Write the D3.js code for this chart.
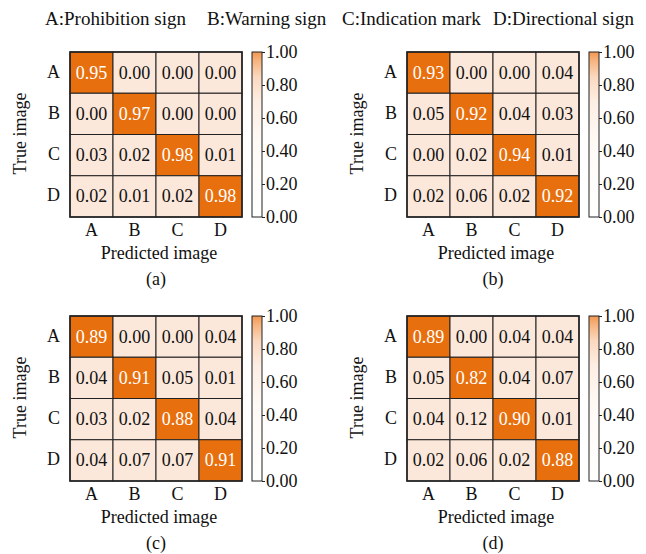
<!DOCTYPE html>
<html>
<head>
<meta charset="utf-8">
<script src="https://cdn.jsdelivr.net/npm/d3@7"></script>
<style>
  html, body { margin: 0; padding: 0; background: #fff; }
  svg { display: block; }
  svg text { font-family: "Times New Roman", "Liberation Serif", Tinos, "Nimbus Roman", "DejaVu Serif", serif; }
</style>
</head>
<body>
<svg id="chart" width="646" height="554"></svg>
<script>
// Class labels and legend captions
const classes = ["A", "B", "C", "D"];
const legendItems = ["A:Prohibition sign", "B:Warning sign", "C:Indication mark", "D:Directional sign"];
const panelLabels = ["(a)", "(b)", "(c)", "(d)"];
const colorbarTicks = [0, 0.2, 0.4, 0.6, 0.8, 1.0];

// Confusion matrices (rows = true class, columns = predicted class)
const matrixA = [
  [0.95, 0.00, 0.00, 0.00],
  [0.00, 0.97, 0.00, 0.00],
  [0.03, 0.02, 0.98, 0.01],
  [0.02, 0.01, 0.02, 0.98]
];
const matrixB = [
  [0.93, 0.00, 0.00, 0.04],
  [0.05, 0.92, 0.04, 0.03],
  [0.00, 0.02, 0.94, 0.01],
  [0.02, 0.06, 0.02, 0.92]
];
const matrixC = [
  [0.89, 0.00, 0.00, 0.04],
  [0.04, 0.91, 0.05, 0.01],
  [0.03, 0.02, 0.88, 0.04],
  [0.04, 0.07, 0.07, 0.91]
];
const matrixD = [
  [0.89, 0.00, 0.04, 0.04],
  [0.05, 0.82, 0.04, 0.07],
  [0.04, 0.12, 0.90, 0.01],
  [0.02, 0.06, 0.02, 0.88]
];

const svg = d3.select("#chart");
const FONT = 18;
const W = 172, H = 165;

// Panel placement (top-left corner of each heatmap)
const panels = [
  { m: matrixA, x: 70,  y: 52,  label: panelLabels[0] },
  { m: matrixB, x: 407, y: 52,  label: panelLabels[1] },
  { m: matrixC, x: 70,  y: 316, label: panelLabels[2] },
  { m: matrixD, x: 407, y: 316, label: panelLabels[3] }
];

// Cell fill: high-confidence cells saturated orange, the rest pale peach
const fill = d3.scaleThreshold().domain([0.5]).range(["#fce8da", "#e76f0e"]);
const textFill = d3.scaleThreshold().domain([0.5]).range(["#111", "#fff"]);

// Colour-bar gradient
const defs = svg.append("defs");
const grad = defs.append("linearGradient").attr("id", "cbar")
  .attr("x1", 0).attr("y1", 1).attr("x2", 0).attr("y2", 0);
[[0, "#ffffff"], [0.45, "#fffaf6"], [0.7, "#fdeee3"], [0.85, "#fbd8bf"], [0.95, "#f6b27c"], [1, "#f29650"]]
  .forEach(([o, c]) => grad.append("stop").attr("offset", o).attr("stop-color", c));

// Legend line across the top
const legendX = [45, 207, 342, 493];
svg.append("g").selectAll("text").data(legendItems).join("text")
  .attr("x", (d, i) => legendX[i]).attr("y", 25)
  .attr("font-size", 19).attr("fill", "#111")
  .text(d => d);

panels.forEach(p => {
  const g = svg.append("g").attr("transform", `translate(${p.x},${p.y})`);
  const x = d3.scaleBand().domain(classes).range([0, W]);
  const y = d3.scaleBand().domain(classes).range([0, H]);

  const cells = [];
  p.m.forEach((row, i) => row.forEach((v, j) => cells.push({ r: classes[i], c: classes[j], v })));

  g.selectAll("rect.cell").data(cells).join("rect").attr("class", "cell")
    .attr("x", d => x(d.c)).attr("y", d => y(d.r))
    .attr("width", x.bandwidth()).attr("height", y.bandwidth())
    .attr("fill", d => fill(d.v))
    .attr("stroke", "#222").attr("stroke-width", 1);

  g.selectAll("text.val").data(cells).join("text").attr("class", "val")
    .attr("x", d => x(d.c) + x.bandwidth() / 2)
    .attr("y", d => y(d.r) + y.bandwidth() / 2)
    .attr("text-anchor", "middle").attr("dominant-baseline", "central")
    .attr("font-size", FONT).attr("fill", d => textFill(d.v))
    .text(d => d3.format(".2f")(d.v));

  g.append("rect").attr("width", W).attr("height", H)
    .attr("fill", "none").attr("stroke", "#222").attr("stroke-width", 1.6);

  // Row labels (true class)
  g.selectAll("text.row").data(classes).join("text").attr("class", "row")
    .attr("x", -10).attr("y", d => y(d) + y.bandwidth() / 2 - 1)
    .attr("text-anchor", "end").attr("dominant-baseline", "central")
    .attr("font-size", FONT).attr("fill", "#111").text(d => d);

  // Column labels (predicted class)
  g.selectAll("text.col").data(classes).join("text").attr("class", "col")
    .attr("x", d => x(d) + x.bandwidth() / 2).attr("y", H + 19)
    .attr("text-anchor", "middle")
    .attr("font-size", FONT).attr("fill", "#111").text(d => d);

  g.append("text").attr("x", W / 2 + 3).attr("y", H + 42)
    .attr("text-anchor", "middle").attr("font-size", FONT).attr("fill", "#111")
    .text("Predicted image");

  g.append("text").attr("x", W / 2).attr("y", H + 68)
    .attr("text-anchor", "middle").attr("font-size", FONT).attr("fill", "#111")
    .text(p.label);

  g.append("text")
    .attr("transform", `translate(${-50},${H / 2 - 1}) rotate(-90)`)
    .attr("text-anchor", "middle").attr("dominant-baseline", "central")
    .attr("font-size", FONT).attr("fill", "#111")
    .text("True image");

  // Colour bar
  const cbX = W + 10, cbW = 10;
  const cy = d3.scaleLinear().domain([0, 1]).range([H, 0]);
  g.append("rect").attr("x", cbX).attr("y", 0).attr("width", cbW).attr("height", H)
    .attr("fill", "url(#cbar)").attr("stroke", "#222").attr("stroke-width", 1);
  const axis = d3.axisRight(cy).tickValues(colorbarTicks).tickFormat(d3.format(".2f"))
    .tickSize(3).tickPadding(1);
  const ag = g.append("g").attr("transform", `translate(${cbX + cbW},0)`).call(axis);
  ag.attr("font-family", null);
  ag.select(".domain").remove();
  ag.selectAll("line").attr("stroke", "#222");
  ag.selectAll("text").attr("font-size", FONT).attr("fill", "#111");
});
</script>
</body>
</html>
